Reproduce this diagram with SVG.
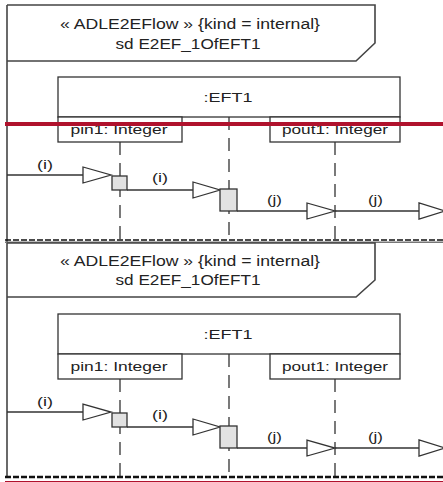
<svg xmlns="http://www.w3.org/2000/svg" width="443" height="482" viewBox="0 0 443 482">
<style>
.t{font-family:"Liberation Sans",Arial,sans-serif;font-size:14px;fill:#222;text-anchor:middle}
.s{font-family:"Liberation Sans",Arial,sans-serif;font-size:13.5px;fill:#222;text-anchor:middle}
.fr{fill:none;stroke:#444;stroke-width:1.6}
.bx{fill:#fff;stroke:#333;stroke-width:1.3}
.ll{fill:none;stroke:#333;stroke-width:1.3;stroke-dasharray:13,8}
.ln{fill:none;stroke:#333;stroke-width:1.3}
.tri{fill:#fff;stroke:#333;stroke-width:1.3}
.gb{fill:#e2e2e2;stroke:#333;stroke-width:1.3}
</style>
<rect width="443" height="482" fill="#fff"/>
<!-- left frame edge -->
<line x1="7" y1="5" x2="7" y2="477" class="fr"/>
<g id="panel1">
  <g id="header1">
    <path d="M7,5 H375 V43 L356,61 H7" class="fr"/>
    <text x="190" y="28.5" class="t" textLength="260" lengthAdjust="spacingAndGlyphs">« ADLE2EFlow » {kind = internal}</text>
    <text x="188" y="48.5" class="t" textLength="145" lengthAdjust="spacingAndGlyphs">sd E2EF_1OfEFT1</text>
  </g>
  <g id="eft1_1">
    <rect x="58" y="77" width="342" height="40" class="bx"/>
    <text x="228" y="102" class="s" textLength="49" lengthAdjust="spacingAndGlyphs">:EFT1</text>
  </g>
  <g id="pin1_1">
    <rect x="58" y="117" width="124" height="25" class="bx"/>
    <text x="119" y="134" class="s" textLength="97" lengthAdjust="spacingAndGlyphs">pin1: Integer</text>
  </g>
  <g id="pout1_1">
    <rect x="270" y="117" width="130" height="25" class="bx"/>
    <text x="335" y="134" class="s" textLength="106" lengthAdjust="spacingAndGlyphs">pout1: Integer</text>
  </g>
  <g id="lifelines1">
    <line x1="120" y1="142" x2="120" y2="240" class="ll"/>
    <line x1="229" y1="117" x2="229" y2="240" class="ll"/>
    <line x1="335" y1="142" x2="335" y2="240" class="ll"/>
  </g>
  <g id="connectors1">
    <line x1="7" y1="175" x2="83" y2="175" class="ln"/>
    <polygon points="83,167 83,183 111,175" class="tri"/>
    <line x1="127" y1="190" x2="193" y2="190" class="ln"/>
    <polygon points="193,182 193,198 220,190" class="tri"/>
    <line x1="237" y1="211" x2="307" y2="211" class="ln"/>
    <polygon points="307,203 307,219 335,211" class="tri"/>
    <line x1="335" y1="211" x2="419" y2="211" class="ln"/>
    <polygon points="419,203 419,219 445,211" class="tri"/>
    <text x="45" y="169" class="s" textLength="16" lengthAdjust="spacingAndGlyphs">(i)</text>
    <text x="160" y="182" class="s" textLength="16" lengthAdjust="spacingAndGlyphs">(i)</text>
    <text x="274.5" y="204" class="s" textLength="15" lengthAdjust="spacingAndGlyphs">(j)</text>
    <text x="375.5" y="204" class="s" textLength="15" lengthAdjust="spacingAndGlyphs">(j)</text>
  </g>
  <g id="exec1">
    <rect x="112" y="176" width="15" height="14" class="gb"/>
    <rect x="220" y="189" width="17" height="22" class="gb"/>
  </g>
</g>
<!-- red marker line -->
<line x1="5" y1="124" x2="443" y2="124" stroke="#b0122d" stroke-width="4"/>
<!-- separator -->
<line x1="5" y1="242.3" x2="443" y2="242.3" stroke="#777" stroke-width="1.6"/>
<line x1="5" y1="240" x2="443" y2="240" stroke="#111" stroke-width="1.6" stroke-dasharray="6,2"/>
<g id="panel2" transform="translate(0,237)">
  <g id="header2">
    <path d="M7,6 H375 V43 L356,60 H7" class="fr"/>
    <text x="190" y="28.5" class="t" textLength="260" lengthAdjust="spacingAndGlyphs">« ADLE2EFlow » {kind = internal}</text>
    <text x="188" y="47.5" class="t" textLength="145" lengthAdjust="spacingAndGlyphs">sd E2EF_1OfEFT1</text>
  </g>
  <g id="eft1_2">
    <rect x="58" y="77" width="342" height="40" class="bx"/>
    <text x="228" y="102" class="s" textLength="49" lengthAdjust="spacingAndGlyphs">:EFT1</text>
  </g>
  <g id="pin1_2">
    <rect x="58" y="117" width="124" height="25" class="bx"/>
    <text x="119" y="134" class="s" textLength="97" lengthAdjust="spacingAndGlyphs">pin1: Integer</text>
  </g>
  <g id="pout1_2">
    <rect x="270" y="117" width="130" height="25" class="bx"/>
    <text x="335" y="134" class="s" textLength="106" lengthAdjust="spacingAndGlyphs">pout1: Integer</text>
  </g>
  <g id="lifelines2">
    <line x1="120" y1="142" x2="120" y2="240" class="ll"/>
    <line x1="229" y1="117" x2="229" y2="240" class="ll"/>
    <line x1="335" y1="142" x2="335" y2="240" class="ll"/>
  </g>
  <g id="connectors2">
    <line x1="7" y1="175" x2="83" y2="175" class="ln"/>
    <polygon points="83,167 83,183 111,175" class="tri"/>
    <line x1="127" y1="190" x2="193" y2="190" class="ln"/>
    <polygon points="193,182 193,198 220,190" class="tri"/>
    <line x1="237" y1="211" x2="307" y2="211" class="ln"/>
    <polygon points="307,203 307,219 335,211" class="tri"/>
    <line x1="335" y1="211" x2="419" y2="211" class="ln"/>
    <polygon points="419,203 419,219 445,211" class="tri"/>
    <text x="45" y="169" class="s" textLength="16" lengthAdjust="spacingAndGlyphs">(i)</text>
    <text x="160" y="182" class="s" textLength="16" lengthAdjust="spacingAndGlyphs">(i)</text>
    <text x="274.5" y="204" class="s" textLength="15" lengthAdjust="spacingAndGlyphs">(j)</text>
    <text x="375.5" y="204" class="s" textLength="15" lengthAdjust="spacingAndGlyphs">(j)</text>
  </g>
  <g id="exec2">
    <rect x="112" y="176" width="15" height="14" class="gb"/>
    <rect x="220" y="189" width="17" height="22" class="gb"/>
  </g>
</g>
<!-- bottom -->
<line x1="5" y1="477" x2="443" y2="477" stroke="#111" stroke-width="2.4" stroke-dasharray="6,2"/>
<line x1="5" y1="481.5" x2="443" y2="481.5" stroke="#b0122d" stroke-width="1.2"/>
</svg>
